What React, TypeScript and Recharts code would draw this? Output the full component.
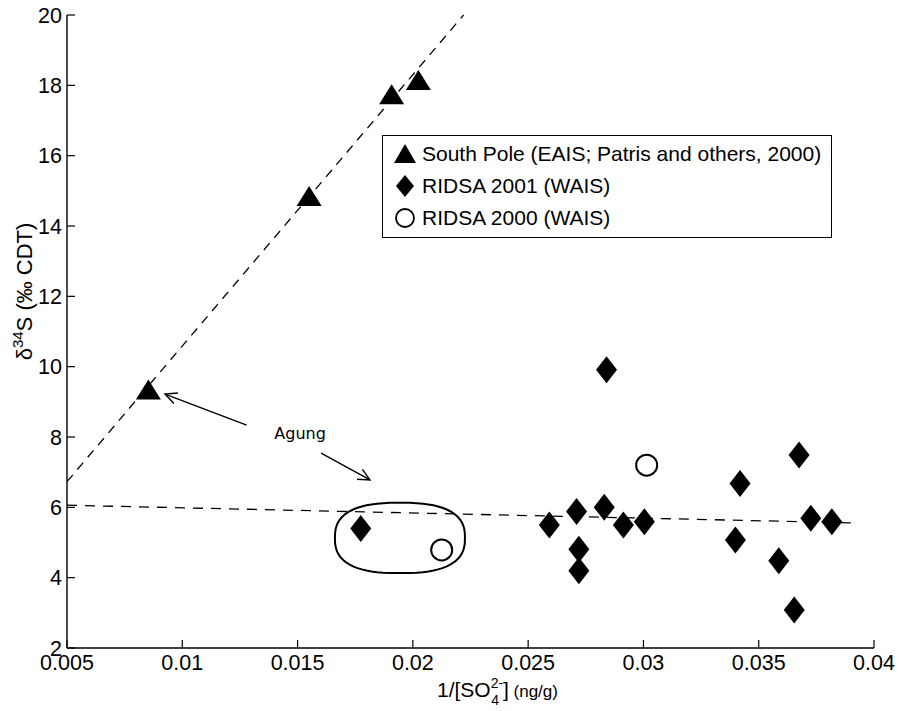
import React from 'react'
import {
  ScatterChart,
  Scatter,
  XAxis,
  YAxis,
  ReferenceLine,
  ReferenceArea,
  ReferenceDot,
  Legend,
} from 'recharts'

// axis ticks
const xTicks = [0.005, 0.01, 0.015, 0.02, 0.025, 0.03, 0.035, 0.04]
const yTicks = [2, 4, 6, 8, 10, 12, 14, 16, 18, 20]

// South Pole (EAIS; Patris and others, 2000)
const southPoleX = [0.00853, 0.0155, 0.01908, 0.02024]
const southPoleY = [9.35, 14.85, 17.75, 18.15]

// RIDSA 2001 (WAIS)
const ridsa2001X = [0.01774, 0.02592, 0.0271, 0.0272, 0.0272, 0.0283, 0.0284, 0.02913, 0.03004, 0.03399, 0.03419, 0.03587, 0.03654, 0.03675, 0.03726, 0.03817]
const ridsa2001Y = [5.4, 5.5, 5.88, 4.81, 4.2, 6.0, 9.91, 5.5, 5.59, 5.07, 6.68, 4.48, 3.08, 7.49, 5.69, 5.59]

// RIDSA 2000 (WAIS)
const ridsa2000X = [0.02125, 0.03014]
const ridsa2000Y = [4.79, 7.2]

// dashed trend lines
const eaisFitX = [0.005, 0.0222]
const eaisFitY = [6.73, 20]
const waisFitX = [0.005, 0.039]
const waisFitY = [6.06, 5.56]

// Agung annotation: loop around the two points, label and arrows (tail -> head)
const agungLoopX = [0.01662, 0.02226]
const agungLoopY = [4.13, 6.13]
const agungLabel = { x: 0.01511, y: 8.11, text: 'Agung' }
const agungArrowsX = [[0.01279, 0.00925], [0.01602, 0.01814]]
const agungArrowsY = [[8.34, 9.22], [7.54, 6.78]]

const legendNames = [
  'South Pole (EAIS; Patris and others, 2000)',
  'RIDSA 2001 (WAIS)',
  'RIDSA 2000 (WAIS)',
]

const FONT = '"Liberation Sans", Arial, Helvetica, sans-serif'

const zip = (xs: number[], ys: number[]) => xs.map((x, i) => ({ x, y: ys[i] }))

function Triangle({ cx, cy }: any) {
  return <path d={`M${cx},${cy - 10} L${cx + 12.5},${cy + 10} L${cx - 12.5},${cy + 10} Z`} fill="#000" />
}

function Diamond({ cx, cy }: any) {
  return <path d={`M${cx},${cy - 13.5} L${cx + 10.5},${cy} L${cx},${cy + 13.5} L${cx - 10.5},${cy} Z`} fill="#000" />
}

function Ring({ cx, cy }: any) {
  return <circle cx={cx} cy={cy} r={10.5} fill="none" stroke="#000" strokeWidth={2} />
}

// rounded loop drawn as a superellipse inside the area's box
function Loop({ x, y, width, height }: any) {
  const cx = x + width / 2
  const cy = y + height / 2
  const a = width / 2
  const b = height / 2
  const n = 2.6
  const pts: string[] = []
  for (let i = 0; i <= 72; i++) {
    const t = (i / 72) * Math.PI * 2
    const c = Math.cos(t)
    const s = Math.sin(t)
    const px = cx + a * Math.sign(c) * Math.pow(Math.abs(c), 2 / n)
    const py = cy + b * Math.sign(s) * Math.pow(Math.abs(s), 2 / n)
    pts.push(`${px.toFixed(2)},${py.toFixed(2)}`)
  }
  return <path d={`M${pts.join(' L')} Z`} fill="none" stroke="#000" strokeWidth={2} />
}

function Arrow({ x1, y1, x2, y2 }: any) {
  const ang = Math.atan2(y2 - y1, x2 - x1)
  const len = 13
  const spread = 0.45
  const ax = x2 - len * Math.cos(ang - spread)
  const ay = y2 - len * Math.sin(ang - spread)
  const bx = x2 - len * Math.cos(ang + spread)
  const by = y2 - len * Math.sin(ang + spread)
  return (
    <g stroke="#000" strokeWidth={1.4} fill="none">
      <line x1={x1} y1={y1} x2={x2} y2={y2} />
      <polyline points={`${ax},${ay} ${x2},${y2} ${bx},${by}`} />
    </g>
  )
}

function LegendBox() {
  const markers = [
    <path key="t" d="M11,1 L22,20 L0,20 Z" fill="#000" />,
    <path key="d" d="M11,0 L20,11 L11,22 L2,11 Z" fill="#000" />,
    <circle key="c" cx={11} cy={11} r={9} fill="none" stroke="#000" strokeWidth={1.8} />,
  ]
  return (
    <div
      style={{
        border: '1.5px solid #000',
        background: '#fff',
        width: 450,
        height: 103,
        boxSizing: 'border-box',
        paddingTop: 2,
        fontFamily: FONT,
        fontSize: 21,
        color: '#000',
      }}
    >
      {legendNames.map((name, i) => (
        <div key={name} style={{ height: 32, display: 'flex', alignItems: 'center' }}>
          <svg width={22} height={22} style={{ marginLeft: 11, marginRight: 6 }}>
            {markers[i]}
          </svg>
          <span>{name}</span>
        </div>
      ))}
    </div>
  )
}

export default function App() {
  const tickStyle = { fill: '#000', fontSize: 21.5, fontFamily: FONT }
  return (
    <div style={{ position: 'absolute', left: 0, top: 0, background: '#fff' }}>
      <ScatterChart
        width={900}
        height={711}
        margin={{ top: 15, right: 26, bottom: 13, left: 17 }}
        style={{ fontFamily: FONT }}
      >
        <XAxis
          xAxisId="top"
          orientation="top"
          type="number"
          dataKey="x"
          domain={[0.005, 0.04]}
          ticks={xTicks}
          height={0}
          tick={false}
          tickSize={-8}
          axisLine={{ stroke: '#000', strokeWidth: 1.4 }}
          tickLine={{ stroke: '#000', strokeWidth: 1.2 }}
        />
        <XAxis
          type="number"
          dataKey="x"
          domain={[0.005, 0.04]}
          ticks={xTicks}
          height={50}
          tickSize={-8}
          tickMargin={15}
          tick={tickStyle}
          tickFormatter={(v) => String(v)}
          axisLine={{ stroke: '#000', strokeWidth: 1.4 }}
          tickLine={{ stroke: '#000', strokeWidth: 1.2 }}
          label={{
            content: (p: any) => {
              const vb = p.viewBox
              return (
                <text x={vb.x + 370} y={vb.y + 49} fontSize={21} fill="#000" fontFamily={FONT}>
                  <tspan>1/[SO</tspan>
                  <tspan fontSize={14} dy={-9}>2-</tspan>
                  <tspan fontSize={14} dx={-12} dy={17}>4</tspan>
                  <tspan fontSize={21} dx={4} dy={-8}>]</tspan>
                  <tspan fontSize={17}> (ng/g)</tspan>
                </text>
              )
            },
          }}
        />
        <YAxis
          yAxisId="right"
          orientation="right"
          type="number"
          domain={[2, 20]}
          ticks={yTicks}
          width={0}
          tick={false}
          tickSize={-8}
          axisLine={{ stroke: '#000', strokeWidth: 1.4 }}
          tickLine={{ stroke: '#000', strokeWidth: 1.2 }}
        />
        <YAxis
          type="number"
          dataKey="y"
          domain={[2, 20]}
          ticks={yTicks}
          width={50}
          tickSize={-8}
          tickMargin={13}
          tick={tickStyle}
          axisLine={{ stroke: '#000', strokeWidth: 1.4 }}
          tickLine={{ stroke: '#000', strokeWidth: 1.2 }}
          label={{
            content: (p: any) => {
              const vb = p.viewBox
              const cy = vb.y + vb.height / 2 - 40
              return (
                <text
                  transform={`translate(${vb.x + 15}, ${cy}) rotate(-90)`}
                  textAnchor="middle"
                  fontSize={22}
                  fill="#000"
                  fontFamily={FONT}
                >
                  <tspan>δ</tspan>
                  <tspan fontSize={15} dy={-9}>34</tspan>
                  <tspan dy={9}>S (‰ CDT)</tspan>
                </text>
              )
            },
          }}
        />

        <ReferenceLine
          segment={zip(eaisFitX, eaisFitY)}
          stroke="#000"
          strokeWidth={1.3}
          strokeDasharray="9 7"
          ifOverflow="visible"
        />
        <ReferenceLine
          segment={zip(waisFitX, waisFitY)}
          stroke="#000"
          strokeWidth={1.3}
          strokeDasharray="10 8"
          ifOverflow="visible"
        />

        <ReferenceArea
          x1={agungLoopX[0]}
          x2={agungLoopX[1]}
          y1={agungLoopY[0]}
          y2={agungLoopY[1]}
          ifOverflow="visible"
          shape={(p: any) => <Loop {...p} />}
        />
        {agungArrowsX.map((xs, i) => (
          <ReferenceLine
            key={i}
            segment={zip(xs, agungArrowsY[i])}
            ifOverflow="visible"
            shape={(p: any) => <Arrow {...p} />}
          />
        ))}
        <ReferenceDot
          x={agungLabel.x}
          y={agungLabel.y}
          r={0}
          ifOverflow="visible"
          shape={(p: any) => (
            <text
              x={p.cx}
              y={p.cy}
              textAnchor="middle"
              dominantBaseline="central"
              fontSize={16}
              fontFamily='"DejaVu Sans", Verdana, sans-serif'
              fill="#000"
            >
              {agungLabel.text}
            </text>
          )}
        />

        <Scatter name={legendNames[0]} data={zip(southPoleX, southPoleY)} shape={Triangle} isAnimationActive={false} />
        <Scatter name={legendNames[1]} data={zip(ridsa2001X, ridsa2001Y)} shape={Diamond} isAnimationActive={false} />
        <Scatter name={legendNames[2]} data={zip(ridsa2000X, ridsa2000Y)} shape={Ring} isAnimationActive={false} />

        <Legend
          layout="vertical"
          align="center"
          verticalAlign="middle"
          wrapperStyle={{ left: 382, top: 135, width: 450, height: 103 }}
          content={() => <LegendBox />}
        />
      </ScatterChart>
    </div>
  )
}
